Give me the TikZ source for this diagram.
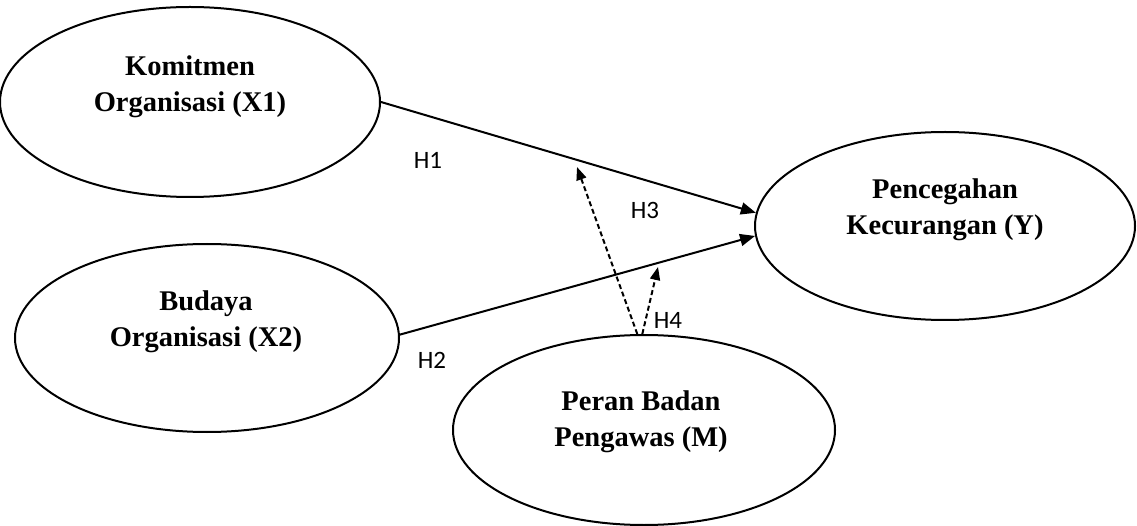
\documentclass[tikz,border=0pt]{standalone}
\usepackage{fontspec}
\setmainfont{Liberation Serif}
\newfontfamily\hfont{Carlito}
\usetikzlibrary{shapes.geometric,arrows.meta,calc}
\begin{document}
\begin{tikzpicture}[x=1pt,y=-1pt,
  var/.style={draw, ellipse, line width=2pt, inner sep=0pt},
  title/.style={font=\fontsize{28.5}{36.5}\selectfont\bfseries, align=center, inner sep=0pt},
  hyp/.style={font=\hfont\fontsize{25}{28}\selectfont, inner sep=0pt},
  effect/.style={line width=2pt, -{Triangle[length=15pt,width=12pt]}},
  moderate/.style={line width=2pt, dash pattern=on 5pt off 3pt, -{Triangle[length=13pt,width=10pt]}}]
\useasboundingbox (0,0) rectangle (1137,526);

% latent variables
\node[var, minimum width=380pt, minimum height=190pt] (x1) at (190,102) {};
\node[var, minimum width=384pt, minimum height=188pt] (x2) at (207,338) {};
\node[var, minimum width=380pt, minimum height=188pt] (y) at (945,226) {};
\node[var, minimum width=382pt, minimum height=190pt] (m) at (644,430) {};

% variable names
\node[title] (x1t) at (190,87) {Komitmen\\Organisasi (X1)};
\node[title] (x2t) at (206,322) {Budaya\\Organisasi (X2)};
\node[title] (yt) at (945,210) {Pencegahan\\Kecurangan (Y)};
\node[title] (mt) at (641,422) {Peran Badan\\Pengawas (M)};

% direct effects
\draw[effect] (x1.east) -- (y.176.4);
\draw[effect] (x2.1.5) -- (y.183.2);

% moderating effects
\coordinate (h3end) at (577,167);
\coordinate (h4end) at (658,267);
\draw[moderate] (m.94.3) -- (h3end);
\draw[moderate] (m.91.8) -- (h4end);

% hypothesis labels
\node[hyp] (h1) at (428,160) {H1};
\node[hyp] (h2) at (432,360) {H2};
\node[hyp] (h3) at (645,210) {H3};
\node[hyp] (h4) at (668,320) {H4};
\end{tikzpicture}
\end{document}
